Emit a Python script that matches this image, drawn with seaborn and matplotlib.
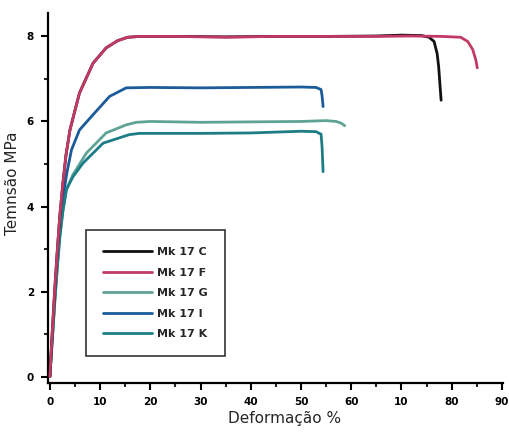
import numpy as np
import pandas as pd
import matplotlib
matplotlib.use("Agg")
import matplotlib.pyplot as plt
import seaborn as sns

# Stress-strain curves (strain %, stress MPa) for each sample
c_x = [0, 0.5, 1, 1.5, 2, 2.6, 3.2, 4, 5.9, 8.6, 11.2, 13.5, 15.5, 18, 25, 35, 45, 55, 65, 70, 74, 75.5, 76.5, 77.1, 77.4, 77.6, 77.9]
c_y = [0, 1.1, 2.1, 3.0, 3.8, 4.55, 5.2, 5.8, 6.67, 7.37, 7.73, 7.9, 7.98, 8.0, 8.0, 7.99, 8.0, 8.0, 8.01, 8.03, 8.02, 7.98, 7.88, 7.6, 7.3, 6.98, 6.5]

f_x = [0, 0.5, 1, 1.5, 2, 2.6, 3.2, 4, 5.9, 8.6, 11.2, 13.5, 15.5, 18, 25, 35, 45, 55, 65, 72, 78, 81.8, 83.2, 84.2, 84.8, 85.1]
f_y = [0, 1.1, 2.1, 3.0, 3.8, 4.55, 5.2, 5.8, 6.67, 7.37, 7.73, 7.9, 7.98, 8.0, 8.0, 7.98, 8.0, 8.0, 8.0, 8.01, 8.0, 7.98, 7.88, 7.69, 7.45, 7.26]

g_x = [0, 0.5, 1, 1.5, 2, 2.6, 3.3, 4.6, 7.3, 11.2, 15.2, 17.2, 20, 30, 40, 50, 55, 57, 58, 58.7]
g_y = [0, 0.9, 1.8, 2.6, 3.3, 3.9, 4.4, 4.75, 5.26, 5.73, 5.92, 5.98, 6.0, 5.98, 5.99, 6.0, 6.02, 6.0, 5.96, 5.9]

i_x = [0, 0.5, 1, 1.5, 2, 2.6, 3.4, 4.3, 5.9, 8.3, 11.9, 15.2, 20, 30, 40, 50, 53, 54, 54.2, 54.4]
i_y = [0, 0.95, 1.9, 2.8, 3.6, 4.2, 4.8, 5.33, 5.8, 6.12, 6.59, 6.79, 6.8, 6.79, 6.8, 6.81, 6.8, 6.75, 6.6, 6.35]

k_x = [0, 0.5, 1, 1.5, 2, 2.6, 3.3, 4.6, 6.6, 10.6, 15.8, 17.8, 20, 30, 40, 50, 53, 54, 54.2, 54.3, 54.4]
k_y = [0, 0.9, 1.8, 2.6, 3.3, 3.9, 4.4, 4.7, 5.02, 5.49, 5.69, 5.72, 5.72, 5.72, 5.73, 5.77, 5.76, 5.7, 5.4, 5.1, 4.82]

labels = ["Mk 17 C", "Mk 17 F", "Mk 17 G", "Mk 17 I", "Mk 17 K"]
colors = ["#111111", "#c23a63", "#5fa396", "#1c5b99", "#1d7d86"]

x_ticks = [0, 10, 20, 30, 40, 50, 60, 70, 80, 90]
x_tick_labels = ["0", "10", "20", "30", "40", "50", "60", "10", "80", "90"]
y_ticks = [0, 2, 4, 6, 8]
y_tick_labels = ["0", "2", "4", "6", "8"]

series = [(c_x, c_y), (f_x, f_y), (g_x, g_y), (i_x, i_y), (k_x, k_y)]
frames = []
for lab, (xs, ys) in zip(labels, series):
    frames.append(pd.DataFrame({"strain": xs, "stress": ys, "sample": lab}))
df = pd.concat(frames, ignore_index=True)

sns.set_style("ticks")
plt.rcParams["font.family"] = ["DejaVu Sans"]

fig = plt.figure(figsize=(5.09, 4.34), dpi=100)
ax = fig.add_axes([0.094, 0.1175, 0.895, 0.8525])

# sample F drawn above C so the shared plateau shows its colour
for lab, col, z in zip(labels, colors, [3, 4, 2, 2, 2]):
    sub = df[df["sample"] == lab]
    sns.lineplot(data=sub, x="strain", y="stress", color=col, linewidth=2.0,
                 sort=False, estimator=None, ax=ax, zorder=z, label=lab)

ax.set_xlim(-0.4, 90.3)
ax.set_ylim(-0.15, 8.55)
ax.set_xticks(x_ticks)
ax.set_xticklabels(x_tick_labels, fontsize=7.5, fontweight="bold")
ax.set_yticks(y_ticks)
ax.set_yticklabels(y_tick_labels, fontsize=7.5, fontweight="bold")
ax.set_xticks(np.arange(5, 90, 10), minor=True)
ax.set_yticks([1, 3, 5, 7], minor=True)
ax.tick_params(axis="both", which="major", length=5, width=1.5, direction="out",
               colors="black", pad=5)
ax.tick_params(axis="both", which="minor", length=3, width=1.5, direction="out")
for s in ["left", "bottom"]:
    ax.spines[s].set_linewidth(1.6)
    ax.spines[s].set_color("black")
sns.despine(ax=ax)

ax.set_xlabel("Deformação %", fontsize=11)
ax.set_ylabel("Temnsão MPa", fontsize=11)
ax.xaxis.set_label_coords(0.52, -0.075)
ax.yaxis.set_label_coords(-0.062, 0.54)

leg = ax.legend(loc="lower left", bbox_to_anchor=(0.072, 0.058), fontsize=8,
                handlelength=4.4, handletextpad=0.5, labelspacing=0.95,
                borderpad=1.5, frameon=True, fancybox=False, edgecolor="black")
leg.get_frame().set_linewidth(1.2)
for t in leg.get_texts():
    t.set_fontweight("bold")

fig.savefig("out.png", dpi=100)
